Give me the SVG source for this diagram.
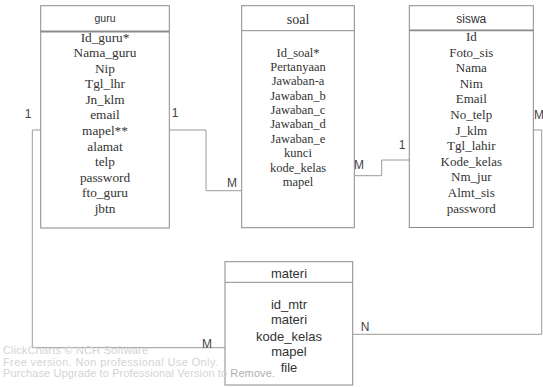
<svg xmlns="http://www.w3.org/2000/svg" width="543" height="387" viewBox="0 0 543 387">
<style>
.box{fill:#fff;stroke:#8a8a8a;stroke-width:1}
.sep{stroke:#8a8a8a;stroke-width:1}
.sep2{stroke:#8a8a8a;stroke-width:1.8}
.serif{font-family:"Liberation Serif","Times New Roman",serif;fill:#333;text-anchor:middle}
.sans{font-family:"Liberation Sans",Arial,sans-serif;fill:#333;text-anchor:middle}
.conn{fill:none;stroke:#9a9a9a;stroke-width:1}
.lbl{font-family:"Liberation Sans",Arial,sans-serif;font-size:12px;fill:#444;text-anchor:middle}
.wm{font-family:"Liberation Sans",Arial,sans-serif;font-size:11px;fill:#d4d4d4}
</style>
<rect width="543" height="387" fill="#fff"/>
<g id="connectors">
<path class="conn" d="M40.7 130 H32.3 V347.7 H225"/>
<path class="conn" d="M169.3 130 H206 V190.7 H241.7"/>
<path class="conn" d="M354.3 175.7 H381.7 V160 H409.3"/>
<path class="conn" d="M533.3 130 H541.7 V334.3 H352.7"/>
<text class="lbl" x="28" y="118">1</text>
<text class="lbl" x="175" y="117">1</text>
<text class="lbl" x="232" y="186.5">M</text>
<text class="lbl" x="359" y="168.5">M</text>
<text class="lbl" x="402" y="149">1</text>
<text class="lbl" x="534" y="119" style="text-anchor:start">M</text>
<text class="lbl" x="365" y="331">N</text>
<text class="lbl" x="207" y="347.5">M</text>
</g>
<g id="guru">
<rect class="box" x="40.7" y="5.7" width="128.6" height="222.3"/>
<line class="sep2" x1="40.7" y1="31.5" x2="169.3" y2="31.5"/>
<text class="sans" x="105" y="22" font-size="10.5">guru</text>
<g class="serif" font-size="13.3">
<text x="105" y="41.6">Id_guru*</text>
<text x="105" y="57.2">Nama_guru</text>
<text x="105" y="72.7">Nip</text>
<text x="105" y="88.3">Tgl_lhr</text>
<text x="105" y="103.8">Jn_klm</text>
<text x="105" y="119.4">email</text>
<text x="105" y="134.9">mapel**</text>
<text x="105" y="150.5">alamat</text>
<text x="105" y="166">telp</text>
<text x="105" y="181.6">password</text>
<text x="105" y="197.1">fto_guru</text>
<text x="105" y="212.7">jbtn</text>
</g>
</g>
<g id="soal">
<rect class="box" x="241.7" y="5.7" width="112.6" height="222"/>
<line class="sep" x1="241.7" y1="30.7" x2="354.3" y2="30.7"/>
<text class="serif" x="298" y="23.5" font-size="14">soal</text>
<g class="serif" font-size="12.5">
<text x="298" y="56.7">Id_soal*</text>
<text x="298" y="71">Pertanyaan</text>
<text x="298" y="85.4">Jawaban-a</text>
<text x="298" y="99.7">Jawaban_b</text>
<text x="298" y="114.1">Jawaban_c</text>
<text x="298" y="128.4">Jawaban_d</text>
<text x="298" y="142.8">Jawaban_e</text>
<text x="298" y="157.1">kunci</text>
<text x="298" y="171.5">kode_kelas</text>
<text x="298" y="185.8">mapel</text>
</g>
</g>
<g id="siswa">
<rect class="box" x="409.3" y="5.7" width="124" height="221.8"/>
<line class="sep2" x1="409.3" y1="30.3" x2="533.3" y2="30.3"/>
<text class="sans" x="471.3" y="23" font-size="12">siswa</text>
<g class="serif" font-size="13">
<text x="471.3" y="41">Id</text>
<text x="471.3" y="56.6">Foto_sis</text>
<text x="471.3" y="72.2">Nama</text>
<text x="471.3" y="87.8">Nim</text>
<text x="471.3" y="103.4">Email</text>
<text x="471.3" y="119">No_telp</text>
<text x="471.3" y="134.6">J_klm</text>
<text x="471.3" y="150.2">Tgl_lahir</text>
<text x="471.3" y="165.8">Kode_kelas</text>
<text x="471.3" y="181.4">Nm_jur</text>
<text x="471.3" y="197">Almt_sis</text>
<text x="471.3" y="212.6">password</text>
</g>
</g>
<g id="materi">
<rect class="box" x="225" y="261.7" width="127.7" height="123.3"/>
<line class="sep" x1="225" y1="282.3" x2="352.7" y2="282.3"/>
<g class="sans" font-size="13">
<text x="289" y="278">materi</text>
<text x="289" y="309">id_mtr</text>
<text x="289" y="324">materi</text>
<text x="289" y="340.7">kode_kelas</text>
<text x="289" y="356.4">mapel</text>
<text x="289" y="372.4">file</text>
</g>
</g>
<g id="watermark">
<text class="wm" x="3" y="354" textLength="145">ClickCharts © NCH Software</text>
<text class="wm" x="3" y="366" textLength="215">Free version. Non professional Use Only.</text>
<text class="wm" x="3" y="377" textLength="272">Purchase Upgrade to Professional Version to <tspan fill="#b0b0b0">Remove.</tspan></text>
</g>
</svg>
